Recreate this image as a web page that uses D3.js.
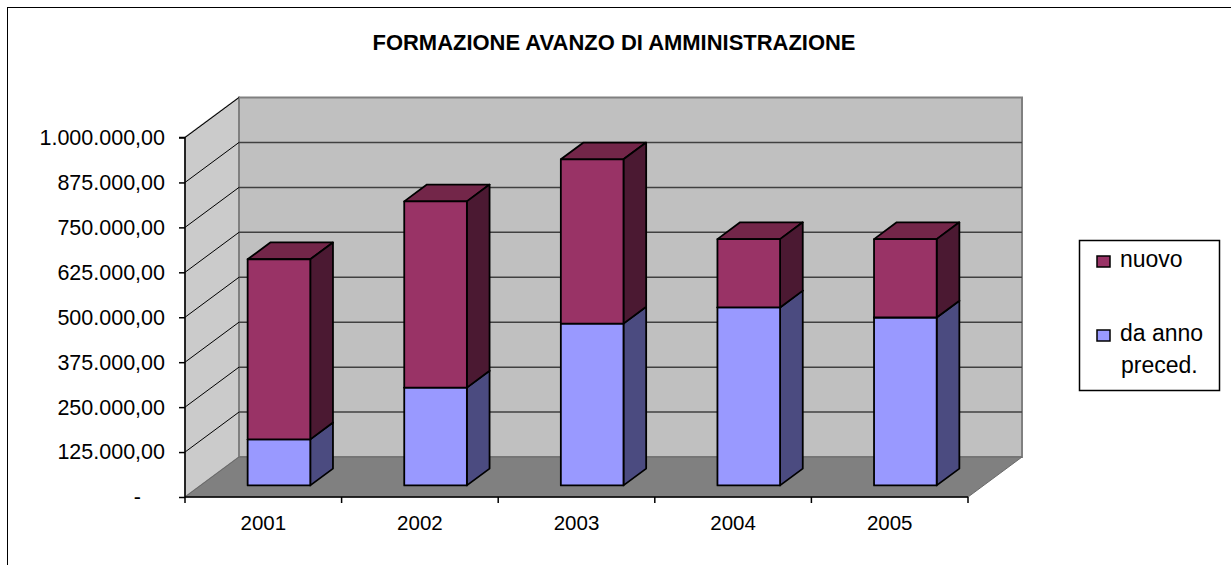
<!DOCTYPE html>
<html>
<head>
<meta charset="utf-8">
<script src="https://cdn.jsdelivr.net/npm/d3@7"></script>
<style>
  body { margin: 0; background: #fff; }
  text { font-family: "Liberation Sans", Arial, sans-serif; }
</style>
</head>
<body>
<div id="chart"></div>
<script>
// Chart data
const years = ["2001", "2002", "2003", "2004", "2005"];
const daAnnoPreced = [128000, 272000, 450000, 495000, 467000];
const nuovo = [501000, 518000, 457000, 190000, 218000];
const seriesNames = ["da anno preced.", "nuovo"];
const yTicks = [0, 125000, 250000, 375000, 500000, 625000, 750000, 875000, 1000000];

const width = 1231, height = 565;

const svg = d3.select("#chart")
  .append("svg")
  .attr("width", width)
  .attr("height", height);

// outer chart frame (right/bottom fall outside the picture)
svg.append("rect")
  .attr("x", 7.5).attr("y", 7.5)
  .attr("width", 1240).attr("height", 600)
  .attr("fill", "#fff")
  .attr("stroke", "#000")
  .attr("stroke-width", 1);

svg.append("text")
  .attr("x", 614)
  .attr("y", 50)
  .attr("text-anchor", "middle")
  .attr("font-size", 22)
  .attr("font-weight", "bold")
  .attr("textLength", 483)
  .attr("lengthAdjust", "spacingAndGlyphs")
  .text("FORMAZIONE AVANZO DI AMMINISTRAZIONE");

// 3D geometry: front plane scales plus a depth offset
const x = d3.scaleBand()
  .domain(years)
  .range([185, 968])
  .paddingInner(0.6)
  .paddingOuter(0.3);

const y = d3.scaleLinear()
  .domain([0, 1000000])
  .range([497, 137.5]);

const DX = 54, DY = -40;          // full depth offset
const d0 = 0.29, d1 = 0.71;       // bar depth range

function pt(px, v, d) {
  return [px + d * DX, y(v) + d * DY];
}
function poly(points) {
  return "M" + points.map(p => p.join(",")).join("L") + "Z";
}

const xL = x.range()[0], xR = x.range()[1];
const vMax = y.domain()[1];

// side wall
svg.append("path")
  .attr("d", poly([pt(xL, 0, 0), pt(xL, 0, 1), pt(xL, vMax, 1), pt(xL, vMax, 0)]))
  .attr("fill", "#cbcbcb")
  .attr("stroke", "#808080")
  .attr("stroke-width", 1.5);

// back wall
svg.append("path")
  .attr("d", poly([pt(xL, 0, 1), pt(xR, 0, 1), pt(xR, vMax, 1), pt(xL, vMax, 1)]))
  .attr("fill", "#c0c0c0")
  .attr("stroke", "#808080")
  .attr("stroke-width", 2);

// floor
svg.append("path")
  .attr("d", poly([pt(xL, 0, 0), pt(xR, 0, 0), pt(xR, 0, 1), pt(xL, 0, 1)]))
  .attr("fill", "#808080")
  .attr("stroke", "#6a6a6a")
  .attr("stroke-width", 1);

// gridlines on back wall and side wall
const grid = svg.append("g");
yTicks.filter(t => t > 0 && t < vMax).forEach(t => {
  grid.append("path")
    .attr("d", "M" + pt(xL, t, 1) + "L" + pt(xR, t, 1))
    .attr("stroke", "#404040")
    .attr("stroke-width", 1.5)
    .attr("fill", "none");
});
yTicks.filter(t => t > 0).forEach(t => {
  grid.append("path")
    .attr("d", "M" + pt(xL, t, 0) + "L" + pt(xL, t, 1))
    .attr("stroke", "#000")
    .attr("stroke-width", 1)
    .attr("fill", "none");
});

// axes
const fmt = d3.formatLocale({ decimal: ",", thousands: ".", grouping: [3], currency: ["€", ""] })
  .format(",.2f");

const yAxis = d3.axisLeft(y)
  .tickValues(yTicks)
  .tickSize(6)
  .tickPadding(14)
  .tickFormat(d => d === 0 ? "-" : fmt(d));

const yG = svg.append("g")
  .attr("transform", `translate(${xL},0)`)
  .call(yAxis);
yG.select(".domain").attr("stroke", "#000").attr("stroke-width", 1.5).attr("d", `M-6,${y(vMax)}H0V${y(0)}`);
yG.selectAll(".tick line").attr("stroke", "#000").attr("stroke-width", 1.5);
yG.selectAll(".tick text")
  .attr("font-size", 21.5)
  .attr("fill", "#000")
  .attr("font-family", "Liberation Sans, Arial, sans-serif")
  .attr("dx", d => d === 0 ? -24 : 0);

const step = x.step();
const boundaries = years.map(c => x(c) - step * 0.3).concat([xR]);
const xG = svg.append("g");
xG.append("line")
  .attr("x1", xL).attr("x2", xR)
  .attr("y1", y(0)).attr("y2", y(0))
  .attr("stroke", "#000").attr("stroke-width", 1.5);
xG.selectAll("line.tk")
  .data(boundaries)
  .enter()
  .append("line")
  .attr("class", "tk")
  .attr("x1", d => d).attr("x2", d => d)
  .attr("y1", y(0)).attr("y2", y(0) + 6)
  .attr("stroke", "#000").attr("stroke-width", 1.5);
xG.selectAll("text")
  .data(years)
  .enter()
  .append("text")
  .attr("x", d => x(d) + x.bandwidth() / 2)
  .attr("y", 530)
  .attr("text-anchor", "middle")
  .attr("font-size", 20.5)
  .text(d => d);

// stacked bars
const table = years.map((yr, i) => ({ year: yr, prev: daAnnoPreced[i], nuovo: nuovo[i] }));
const stacked = d3.stack().keys(["prev", "nuovo"])(table);

const colors = {
  prev:  { front: "#9999ff", side: "#4b4b80", top: "#7a7acc" },
  nuovo: { front: "#993366", side: "#4b1932", top: "#732649" }
};

const bars = svg.append("g");
years.forEach((yr, i) => {
  stacked.forEach(layer => {
    const seg = layer[i];
    const c = colors[layer.key];
    const xa = x(yr), xb = x(yr) + x.bandwidth();
    const lo = seg[0], hi = seg[1];
    const g = bars.append("g")
      .attr("stroke", "#000")
      .attr("stroke-width", 1.8)
      .attr("stroke-linejoin", "round");
    // top
    g.append("path")
      .attr("d", poly([pt(xa, hi, d0), pt(xb, hi, d0), pt(xb, hi, d1), pt(xa, hi, d1)]))
      .attr("fill", c.top);
    // side
    g.append("path")
      .attr("d", poly([pt(xb, lo, d0), pt(xb, lo, d1), pt(xb, hi, d1), pt(xb, hi, d0)]))
      .attr("fill", c.side);
    // front
    g.append("path")
      .attr("d", poly([pt(xa, lo, d0), pt(xb, lo, d0), pt(xb, hi, d0), pt(xa, hi, d0)]))
      .attr("fill", c.front);
  });
});

// legend
const legend = svg.append("g");
legend.append("rect")
  .attr("x", 1079.5).attr("y", 240.5)
  .attr("width", 140).attr("height", 150)
  .attr("fill", "#fff")
  .attr("stroke", "#000")
  .attr("stroke-width", 1.5);

const legendItems = [
  { key: "nuovo", lines: ["nuovo"], y: 267 },
  { key: "prev", lines: ["da anno", "preced."], y: 341 }
];
legendItems.forEach(item => {
  legend.append("rect")
    .attr("x", 1097).attr("y", item.y - 11)
    .attr("width", 13).attr("height", 11)
    .attr("fill", colors[item.key].front)
    .attr("stroke", "#000")
    .attr("stroke-width", 1.5);
  item.lines.forEach((ln, j) => {
    legend.append("text")
      .attr("x", j === 0 ? 1120 : 1121)
      .attr("y", item.y + j * 32)
      .attr("font-size", 23)
      .text(ln);
  });
});
</script>
</body>
</html>
